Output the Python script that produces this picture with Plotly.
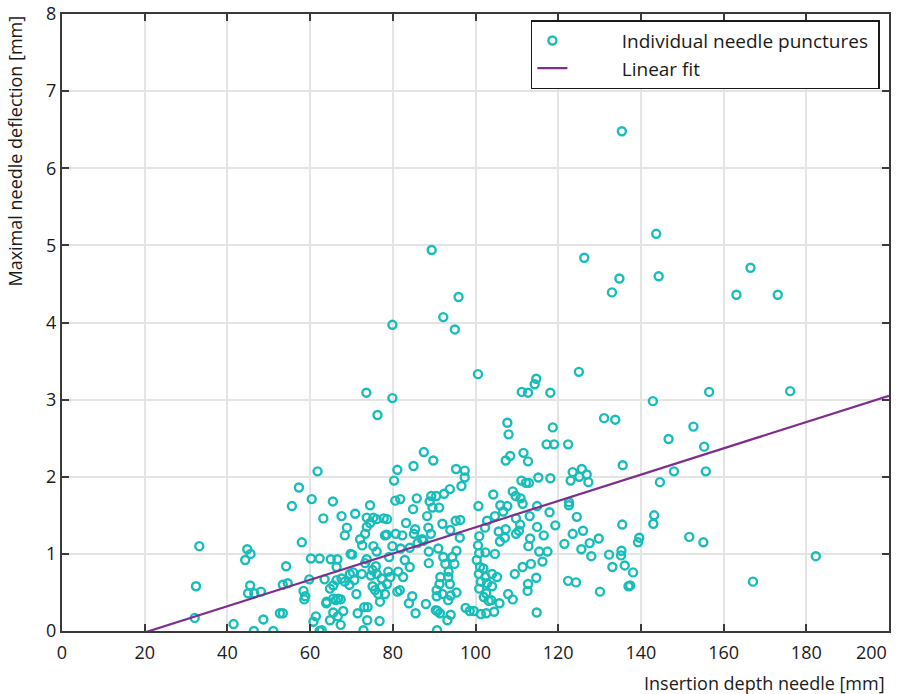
import plotly.graph_objects as go

# Individual needle punctures: insertion depth [mm] and maximal deflection [mm]
depth = [
    61.8, 57.3, 60.4, 55.6, 33.2, 44.8, 45.6, 44.3, 58.0, 60.2, 62.3, 54.2, 32.4, 45.5, 45.0, 46.5,
    48.1, 53.4, 54.6, 59.8, 58.4, 58.6, 58.8, 32.1, 41.5, 48.7, 52.7, 53.4, 46.4, 51.1, 61.4, 60.8, 62.3,
    87.5, 85.0, 89.8, 81.1, 80.3, 95.3, 97.4, 97.4, 96.6, 93.8, 92.4, 89.3, 90.5, 88.9, 91.2, 89.6,
    85.8, 84.9, 81.8, 80.6, 88.3, 92.0, 83.2, 88.6, 95.2, 96.3, 93.9, 96.2, 85.4, 85.1, 87.1, 89.2,
    80.7, 82.3, 78.6, 77.8, 76.1, 74.5, 73.7, 70.9, 67.6, 65.5, 63.2, 75.3, 74.5, 73.7, 68.9, 68.4,
    73.3, 72.1, 72.6, 78.1, 78.5, 79.9, 81.9, 84.1, 86.0, 87.4, 75.3, 76.1, 69.8, 65.0, 66.6, 66.4,
    73.7, 79.1, 82.9, 84.1, 88.7, 88.7, 91.0, 92.2, 92.7, 93.5, 94.9, 94.4, 95.4, 91.5, 91.3, 90.6,
    93.4, 93.8, 92.0, 94.0, 95.4, 93.4, 90.6, 90.8, 91.4, 94.0, 93.2, 90.4, 90.7, 72.9, 62.8, 81.3,
    82.5, 81.7, 81.1, 78.9, 79.4, 78.6, 77.3, 77.3, 78.1, 76.5, 76.9, 75.7, 75.1, 76.1, 75.1, 75.9,
    74.7, 72.5, 73.3, 70.7, 69.6, 68.4, 67.6, 66.4, 65.6, 64.8, 71.2, 73.9, 73.1, 71.5, 73.8, 76.8,
    68.0, 65.6, 66.7, 64.8, 64.0, 66.8, 65.6, 63.9, 83.9, 84.7, 85.5, 88.0, 63.5, 66.2, 67.4, 70.2,
    67.4, 69.5, 70.4, 97.6, 98.6,
    108.0, 117.2, 119.0, 122.4, 107.3, 108.4, 111.6, 112.7, 123.5, 125.7, 126.9, 123.0, 125.1, 127.3,
    115.2, 118.1, 111.1, 112.2, 112.9, 109.0, 104.3, 109.7, 110.9, 111.4, 100.7, 106.0, 107.7, 106.7,
    104.7, 102.8, 109.8, 113.1, 114.9, 117.9, 122.6, 122.6, 124.5, 110.8, 114.9, 119.3, 102.3, 107.3,
    105.6, 110.5, 109.8, 116.5, 123.5, 126.0, 100.9, 107.1, 105.9, 113.2, 129.8, 100.6, 112.8, 121.5,
    127.6, 125.6, 128.0, 100.9, 102.4, 104.7, 115.4, 117.4, 116.2, 113.4, 111.4, 109.5, 114.7, 132.3,
    133.1, 122.4, 124.3, 130.1, 112.7, 112.6, 107.9, 109.0, 105.8, 103.2, 114.8, 104.5, 102.6, 101.3,
    100.3, 101.1, 101.9, 100.8, 102.4, 104.0, 105.2, 101.3, 102.8, 104.0, 100.9, 102.6, 103.8, 102.0, 99.6,
    146.7, 155.3, 135.6, 148.0, 155.7, 144.6, 143.2, 143.0, 135.5, 139.6, 139.3, 151.7, 155.1, 182.3,
    167.1, 135.3, 135.2, 136.1, 138.1, 137.0, 137.4,
    135.4, 89.4, 143.7, 126.3, 134.8, 133.0, 144.3, 166.5, 163.1, 173.1, 95.9, 92.2, 95.0, 79.9,
    100.6, 73.6, 79.9, 76.3, 111.2, 112.7, 114.7, 114.3, 118.1, 125.0, 107.7, 118.7, 131.1, 133.8,
    142.9, 156.5, 176.1, 152.7,
]
deflection = [
    2.07, 1.86, 1.71, 1.62, 1.10, 1.06, 1.00, 0.92, 1.15, 0.94, 0.94, 0.84, 0.58, 0.59, 0.49, 0.49,
    0.51, 0.60, 0.62, 0.67, 0.52, 0.41, 0.45, 0.17, 0.09, 0.15, 0.23, 0.23, 0.00, 0.00, 0.19, 0.12, 0.00,
    2.32, 2.14, 2.21, 2.09, 1.95, 2.10, 2.08, 1.99, 1.88, 1.84, 1.78, 1.75, 1.75, 1.68, 1.60, 1.60,
    1.72, 1.58, 1.71, 1.69, 1.49, 1.39, 1.40, 1.34, 1.43, 1.44, 1.31, 1.21, 1.32, 1.26, 1.19, 1.26,
    1.26, 1.24, 1.45, 1.46, 1.45, 1.63, 1.47, 1.52, 1.49, 1.68, 1.46, 1.47, 1.40, 1.35, 1.34, 1.24,
    1.26, 1.19, 1.11, 1.24, 1.25, 1.10, 1.07, 1.08, 1.14, 1.17, 1.10, 1.03, 1.00, 0.93, 0.93, 0.83,
    0.93, 0.96, 0.92, 0.83, 1.03, 0.88, 1.07, 0.96, 0.87, 0.77, 0.87, 0.96, 1.04, 0.70, 0.61, 0.53,
    0.70, 0.61, 0.48, 0.46, 0.50, 0.40, 0.45, 0.26, 0.23, 0.21, 0.14, 0.27, 0.01, 0.01, 0.01, 0.77,
    0.70, 0.53, 0.51, 0.77, 0.70, 0.61, 0.68, 0.57, 0.48, 0.48, 0.38, 0.53, 0.58, 0.74, 0.79, 0.84,
    0.72, 0.74, 0.88, 0.66, 0.74, 0.64, 0.68, 0.66, 0.59, 0.55, 0.48, 0.31, 0.31, 0.23, 0.14, 0.13,
    0.26, 0.24, 0.19, 0.14, 0.38, 0.42, 0.42, 0.36, 0.36, 0.45, 0.23, 0.35, 0.67, 0.40, 0.41, 0.99,
    0.08, 0.60, 0.76, 0.30, 0.26,
    2.55, 2.42, 2.42, 2.42, 2.21, 2.27, 2.31, 2.20, 2.06, 2.10, 2.03, 1.95, 2.00, 1.93,
    1.99, 1.98, 1.95, 1.92, 1.92, 1.81, 1.77, 1.75, 1.72, 1.65, 1.62, 1.63, 1.62, 1.55,
    1.49, 1.43, 1.46, 1.49, 1.62, 1.54, 1.67, 1.63, 1.48, 1.38, 1.35, 1.37, 1.34, 1.32,
    1.29, 1.30, 1.26, 1.24, 1.26, 1.30, 1.23, 1.21, 1.16, 1.20, 1.20, 1.11, 1.10, 1.13,
    1.14, 1.06, 0.97, 1.01, 1.02, 1.00, 1.03, 1.03, 0.90, 0.87, 0.83, 0.74, 0.69, 0.99,
    0.83, 0.65, 0.63, 0.51, 0.61, 0.52, 0.48, 0.41, 0.36, 0.39, 0.24, 0.25, 0.23, 0.22,
    0.92, 0.83, 0.81, 0.74, 0.70, 0.74, 0.70, 0.64, 0.62, 0.58, 0.55, 0.49, 0.40, 0.44, 0.26,
    2.49, 2.39, 2.15, 2.07, 2.07, 1.93, 1.50, 1.39, 1.38, 1.21, 1.15, 1.22, 1.15, 0.97,
    0.64, 1.04, 0.98, 0.85, 0.76, 0.58, 0.59,
    6.48, 4.94, 5.15, 4.84, 4.57, 4.39, 4.60, 4.71, 4.36, 4.36, 4.33, 4.07, 3.91, 3.97,
    3.33, 3.09, 3.02, 2.80, 3.10, 3.09, 3.27, 3.20, 3.09, 3.36, 2.70, 2.64, 2.76, 2.74,
    2.98, 3.10, 3.11, 2.65,
]

# Linear fit end points
fit_x = [0, 200]
fit_y = [-0.36, 3.05]

x_ticks = [0, 20, 40, 60, 80, 100, 120, 140, 160, 180, 200]
x_tick_labels = ["0", "20", "40", "60", "80", "100", "120", "140", "160", "180", "200"]
y_ticks = [0, 1, 2, 3, 4, 5, 6, 7, 8]

FONT = "Open Sans"
FS = 18
NB = "\u00a0"

fig = go.Figure()
fig.add_trace(go.Scatter(
    x=depth, y=deflection, mode="markers", name=NB * 10 + "Individual needle punctures" + NB,
    marker=dict(symbol="circle-open", size=8, color="#17BDBA", line=dict(width=2.4, color="#17BDBA")),
))
fig.add_trace(go.Scatter(
    x=fit_x, y=fit_y, mode="lines", name=NB * 10 + "Linear fit",
    line=dict(color="#7E2F8E", width=2.2),
))

axis_common = dict(
    showgrid=True, gridcolor="#e4e4e4", gridwidth=1.8, zeroline=False,
    showline=True, linecolor="#3a3a3a", linewidth=2, mirror="ticks",
    ticks="inside", ticklen=7, tickwidth=2, tickcolor="#3a3a3a",
    tickfont=dict(family=FONT, size=FS, color="#1a1a1a"),
    ticklabeloverflow="allow", automargin=False,
)
# last x label is drawn as a right-aligned annotation so it stays inside the page
fig.update_xaxes(range=[0, 200], tickvals=x_ticks, ticktext=x_tick_labels[:-1] + [""],
                 ticklabelstandoff=4, **axis_common)
fig.update_yaxes(range=[0, 8], tickvals=y_ticks, **axis_common)

fig.update_layout(
    width=899, height=694,
    margin=dict(l=62, r=10, t=14, b=63),
    paper_bgcolor="white", plot_bgcolor="white",
    font=dict(family=FONT, size=FS, color="#1a1a1a"),
    showlegend=True,
    legend=dict(
        x=0.567, y=0.99, xanchor="left", yanchor="top",
        bgcolor="white", bordercolor="#1a1a1a", borderwidth=1.5,
        font=dict(family=FONT, size=19, color="#1a1a1a"),
        tracegroupgap=0,
    ),
    annotations=[
        dict(text=x_tick_labels[-1], xref="x", yref="paper", x=x_ticks[-1], y=-0.012,
             xanchor="right", yanchor="top", showarrow=False,
             font=dict(family=FONT, size=FS, color="#1a1a1a")),
        dict(text="Insertion depth needle [mm]", xref="paper", yref="paper",
             x=0.997, y=-0.084, xanchor="right", yanchor="middle", showarrow=False,
             font=dict(family=FONT, size=FS, color="#1a1a1a")),
        dict(text="Maximal needle deflection [mm]", xref="paper", yref="paper",
             x=-0.058, y=1.0, xanchor="center", yanchor="top", textangle=-90, showarrow=False,
             font=dict(family=FONT, size=FS, color="#1a1a1a")),
    ],
)

fig.write_html("out.html")
